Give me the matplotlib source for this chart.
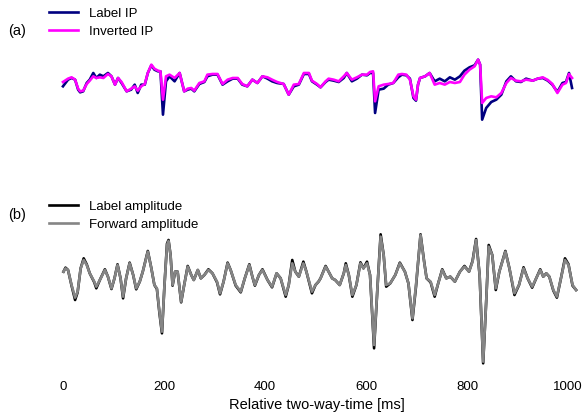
import matplotlib
import matplotlib.pyplot
import matplotlib.ticker

matplotlib.use('Agg')

# Panel (a): impedance, arbitrary units.
ip_time = [
    0, 10, 17, 24, 30, 34, 40, 47, 53, 60, 66, 73, 80, 89, 96, 103, 109,
    116, 126, 135, 142, 148, 155, 162, 168, 175, 181, 188, 193, 198, 204,
    211, 221, 231, 240, 247, 254, 260, 270, 280, 286, 296, 306, 316, 326,
    336, 346, 355, 365, 375, 385, 395, 405, 414, 424, 437, 447, 457, 467,
    477, 487, 493, 503, 510, 520, 526, 536, 546, 556, 562, 572, 582, 592,
    602, 608, 614, 618, 625, 635, 644, 654, 664, 671, 680, 687, 694, 699,
    703, 707, 717, 726, 736, 746, 756, 766, 776, 786, 795, 805, 815, 822,
    826, 830, 838, 848, 858, 868, 878, 887, 897, 907, 917, 930, 940, 950,
    960, 969, 979, 989, 996, 1002, 1008]
label_ip = [
    15, 35, 40, 35, 5, -3, 0, 25, 35, 55, 40, 50, 45, 55, 45, 20, 40,
    25, 0, 5, 20, -5, 20, 20, 55, 78, 65, 60, 60, -70, 30,
    45, 30, 55, 0, 5, 8, 0, 22, 28, 45, 50, 50, 20, 30,
    38, 38, 20, 15, 35, 25, 45, 38, 30, 25, 22, -10, 15, 20,
    52, 52, 30, 20, 12, 28, 35, 32, 28, 40, 55, 30, 38, 50,
    48, 55, 55, -65, 5, 8, 20, 25, 42, 50, 48, 38, -20, -28,
    20, 40, 45, 55, 30, 38, 30, 42, 35, 45, 62, 72, 78, 95,
    80, -85, -50, -32, -25, -10, 30, 45, 30, 28, 38, 32, 38, 40,
    32, 20, -2, 25, 28, 55, 10]
inverted_ip = [
    28, 38, 42, 35, 8, 0, 2, 22, 32, 45, 40, 42, 40, 52, 45, 20, 40,
    28, 0, 8, 15, 2, 15, 22, 55, 80, 68, 62, 60, -25, 45,
    50, 40, 55, 0, 8, 10, 2, 25, 30, 50, 52, 52, 22, 35,
    40, 40, 22, 15, 35, 25, 45, 42, 35, 28, 22, -10, 20, 22,
    55, 55, 32, 22, 12, 30, 38, 35, 30, 45, 55, 35, 42, 50,
    50, 58, 60, -30, 15, 20, 22, 25, 50, 52, 50, 35, -15, -25,
    20, 40, 45, 55, 20, 25, 20, 28, 25, 28, 50, 65, 75, 95,
    80, -35, -20, -15, -18, -5, 25, 40, 32, 30, 35, 32, 38, 42,
    34, 22, -5, 20, 25, 52, 40]

# Panel (b): seismic amplitude, arbitrary units.
amp_time = [
    1, 5, 10, 17, 24, 29, 35, 41, 47, 53, 62, 66, 73, 83, 89, 96, 102,
    108, 114, 119, 125, 132, 139, 145, 152, 158, 168, 175, 181, 186, 191,
    196, 201, 206, 209, 213, 217, 222, 227, 234, 240, 247, 254, 259, 267,
    273, 280, 288, 296, 305, 311, 318, 326, 332, 342, 352, 360, 369, 375,
    380, 388, 395, 405, 414, 423, 431, 441, 447, 454, 460, 467, 476, 482,
    493, 500, 506, 510, 520, 526, 533, 539, 548, 556, 560, 566, 573, 581,
    589, 595, 602, 608, 616, 623, 629, 635, 640, 648, 658, 667, 677, 684,
    692, 699, 708, 715, 720, 728, 736, 743, 751, 759, 767, 776, 786, 795,
    804, 811, 818, 825, 832, 838, 843, 850, 857, 864, 876, 884, 894, 903,
    912, 920, 929, 937, 945, 951, 957, 963, 971, 978, 986, 994, 1001, 1009,
    1016]
forward_amp = [
    20, 30, 25, -20, -58, -40, 30, 55, 40, 15, -10, -25, -5, 25, 5, -30, 0,
    40, 0, -55, 0, 45, 10, -30, -10, 20, 80, 30, -20, -30, -100,
    -160, -20, 100, 112, 70, -20, 20, 20, -70, -20, 35, 10, -5, 25,
    0, 10, 25, 15, -10, -45, -10, 45, 25, -20, -40, 0, 40, 5,
    -20, 10, 25, -5, -25, 15, 0, -50, -20, 45, 20, 5, 45, 20,
    -40, -20, -10, 0, 35, 20, 0, -5, -20, 15, 40, 10, -50, -20,
    45, 30, 45, 10, -200, -20, 125, 70, -20, -15, 10, 45, 20, -15,
    -120, -20, 130, 50, 0, -10, -50, -15, 25, 0, 5, -10, 20, 35,
    20, 50, 115, 10, -250, -70, 95, 70, -30, 20, 80, 30, -45, -20,
    30, 0, -25, 0, 25, 5, 15, 5, -35, -55, 0, 55, 40, -20,
    -35]
label_amp = [
    20, 32, 25, -22, -65, -42, 30, 60, 42, 15, -12, -30, -5, 27, 5, -32, 0,
    42, 0, -60, 0, 47, 10, -33, -10, 20, 82, 30, -20, -32, -104,
    -165, -20, 104, 115, 70, -22, 20, 20, -72, -20, 37, 10, -5, 25,
    0, 10, 27, 15, -12, -48, -10, 47, 25, -22, -42, 0, 42, 5,
    -22, 10, 27, -5, -27, 15, 0, -55, -20, 55, 20, 5, 50, 20,
    -45, -20, -10, 0, 37, 20, 0, -5, -20, 15, 45, 10, -55, -20,
    48, 30, 50, 10, -210, -20, 132, 70, -25, -15, 10, 47, 20, -15,
    -125, -25, 132, 52, 0, -12, -55, -15, 27, 0, 5, -10, 20, 37,
    20, 52, 118, 10, -255, -70, 100, 70, -35, 20, 82, 30, -50, -20,
    33, 0, -28, 0, 27, 5, 15, 5, -37, -58, 0, 60, 42, -22,
    -35]

x_ticks = [0, 200, 400, 600, 800, 1000]


def clean_axes(axes):
    for spine in axes.spines.values():
        spine.set_visible(False)
    axes.set_yticks([])
    axes.set_xlim(-16, 1020)
    axes.tick_params(axis='x', length=0, labelsize=9.5)


def add_legend(axes, figure, top):
    axes.legend(loc='upper left', bbox_to_anchor=(0.075, top),
                bbox_transform=figure.transFigure, frameon=False,
                fontsize=9.5, labelspacing=0.45, handlelength=2.2,
                borderaxespad=0)


def main():
    matplotlib.pyplot.rcParams['font.family'] = ['Liberation Sans',
                                                 'DejaVu Sans']
    figure = matplotlib.pyplot.figure(figsize=(5.84, 4.2), dpi=100)

    top = figure.add_axes([0.094, 0.6905, 0.8959, 0.2143])
    clean_axes(top)
    top.set_ylim(-116, 154)
    top.set_xticks([])
    top.plot(ip_time, label_ip, c='#000080', lw=1.9, label='Label IP')
    top.plot(ip_time, inverted_ip, c='#ff00ff', lw=1.9, label='Inverted IP')
    add_legend(top, figure, 1 - 2 / 420)

    bottom = figure.add_axes([0.094, 0.1048, 0.8959, 0.3476])
    clean_axes(bottom)
    bottom.set_ylim(-293, 145)
    bottom.plot(amp_time, label_amp, c='k', lw=1.9,
                label='Label amplitude')
    bottom.plot(amp_time, forward_amp, c='#858585', lw=1.9,
                label='Forward amplitude')
    add_legend(bottom, figure, 1 - 195 / 420)
    bottom.xaxis.set_major_locator(matplotlib.ticker.FixedLocator(x_ticks))
    bottom.set_xlabel('Relative two-way-time [ms]', fontsize=10.5,
                      labelpad=4)

    figure.text(0.029, 1 - 31 / 420, '(a)', fontsize=10.5,
                ha='center', va='center')
    figure.text(0.029, 1 - 215 / 420, '(b)', fontsize=10.5,
                ha='center', va='center')

    figure.savefig('out.png', dpi=100)
    matplotlib.pyplot.close(figure)


if __name__ == '__main__':
    main()
